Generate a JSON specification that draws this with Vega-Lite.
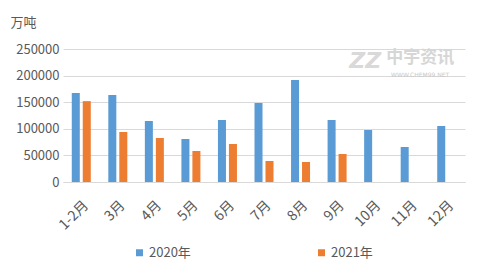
{
  "$schema": "https://vega.github.io/schema/vega-lite/v6.json",
  "width": 402,
  "height": 133,
  "autosize": {"type": "none"},
  "padding": {"left": 63, "top": 49, "right": 15, "bottom": 91},
  "background": "#ffffff",
  "config": {
    "font": "Noto Sans CJK SC",
    "view": {"stroke": null},
    "axis": {"labelColor": "#595959", "titleColor": "#595959", "labelFont": "Noto Sans CJK SC", "titleFont": "Noto Sans CJK SC"}
  },
  "encoding": {
    "x": {
      "field": "month",
      "type": "nominal",
      "scale": {
        "domain": ["1-2月", "3月", "4月", "5月", "6月", "7月", "8月", "9月", "10月", "11月", "12月"],
        "paddingInner": 0.48,
        "paddingOuter": 0.24
      },
      "axis": {
        "title": null,
        "labelAngle": -45,
        "labelFontSize": 14,
        "labelPadding": 16,
        "ticks": false,
        "domain": true,
        "domainColor": "#d9d9d9",
        "domainWidth": 1
      }
    },
    "y": {
      "field": "value",
      "type": "quantitative",
      "scale": {"domain": [0, 250000], "nice": false},
      "axis": {
        "title": "万吨",
        "titleAngle": 0,
        "titleAlign": "left",
        "titleBaseline": "middle",
        "titleX": -53,
        "titleY": -27,
        "titleFontSize": 13,
        "titleFontWeight": "normal",
        "values": [0, 50000, 100000, 150000, 200000, 250000],
        "format": "d",
        "labelFontSize": 13,
        "labelPadding": 4,
        "labelOverlap": false,
        "labelFlush": false,
        "ticks": false,
        "domain": false,
        "grid": true,
        "gridColor": "#d9d9d9",
        "gridWidth": 1
      }
    }
  },
  "layer": [
    {
      "data": {
        "values": [
          {"month": "1-2月", "year": "2020年", "value": 167300},
          {"month": "1-2月", "year": "2021年", "value": 152000},
          {"month": "3月", "year": "2020年", "value": 163600},
          {"month": "3月", "year": "2021年", "value": 94000},
          {"month": "4月", "year": "2020年", "value": 114700},
          {"month": "4月", "year": "2021年", "value": 82700},
          {"month": "5月", "year": "2020年", "value": 80800},
          {"month": "5月", "year": "2021年", "value": 58300},
          {"month": "6月", "year": "2020年", "value": 116500},
          {"month": "6月", "year": "2021年", "value": 71400},
          {"month": "7月", "year": "2020年", "value": 148500},
          {"month": "7月", "year": "2021年", "value": 39500},
          {"month": "8月", "year": "2020年", "value": 191800},
          {"month": "8月", "year": "2021年", "value": 37600},
          {"month": "9月", "year": "2020年", "value": 116500},
          {"month": "9月", "year": "2021年", "value": 52600},
          {"month": "10月", "year": "2020年", "value": 97800},
          {"month": "11月", "year": "2020年", "value": 65800},
          {"month": "12月", "year": "2020年", "value": 105300}
        ]
      },
      "mark": {"type": "bar"},
      "encoding": {
        "xOffset": {
          "field": "year",
          "type": "nominal",
          "scale": {"domain": ["2020年", "2021年"], "paddingInner": 0.27, "paddingOuter": 0}
        },
        "color": {
          "field": "year",
          "type": "nominal",
          "scale": {"domain": ["2020年", "2021年"], "range": ["#5b9bd5", "#ed7d31"]},
          "legend": {
            "title": null,
            "orient": "none",
            "direction": "horizontal",
            "legendX": 70,
            "legendY": 197,
            "symbolType": "square",
            "symbolSize": 49,
            "symbolStrokeWidth": 0,
            "labelOffset": 3,
            "labelFontSize": 13,
            "labelColor": "#595959",
            "columnPadding": 124
          }
        }
      }
    },
    {
      "data": {"values": [{"month": "11月", "value": 227500, "t": "ZZ"}]},
      "mark": {"type": "text", "font": "DejaVu Sans", "fontSize": 22, "fontWeight": "bold", "fontStyle": "italic", "color": "#d9d9d9", "dx": -45, "baseline": "middle", "align": "center"},
      "encoding": {"text": {"field": "t"}}
    },
    {
      "data": {"values": [{"month": "11月", "value": 233000, "t": "中宇资讯"}]},
      "mark": {"type": "text", "fontSize": 17, "fontWeight": "bold", "color": "#d6d6d6", "dx": 10, "baseline": "middle", "align": "center"},
      "encoding": {"text": {"field": "t"}}
    },
    {
      "data": {"values": [{"month": "11月", "value": 202000, "t": "WWW.CHEM99.NET"}]},
      "mark": {"type": "text", "font": "DejaVu Sans", "fontSize": 6, "color": "#c8c8c8", "dx": 10, "baseline": "middle", "align": "center"},
      "encoding": {"text": {"field": "t"}}
    }
  ]
}
